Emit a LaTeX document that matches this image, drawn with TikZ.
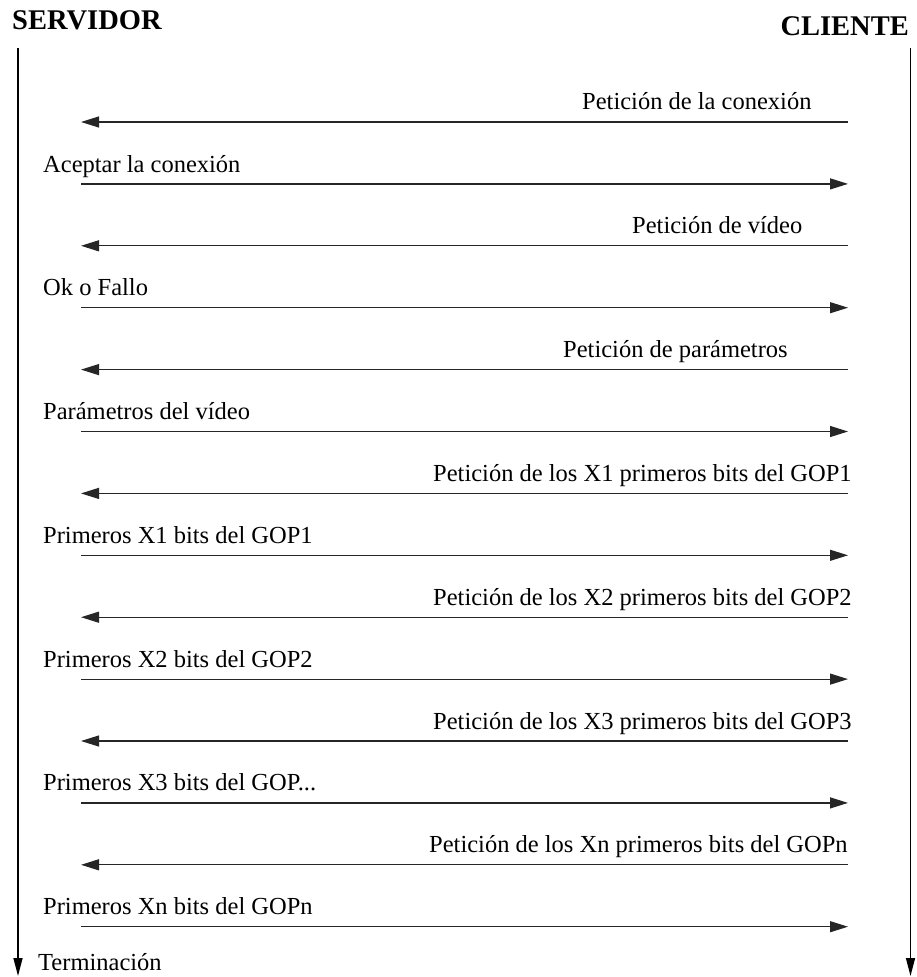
\documentclass[tikz,border=0pt]{standalone}
\usepackage{fontspec}
\setmainfont{Liberation Serif}
\usetikzlibrary{arrows.meta}
\begin{document}
\begin{tikzpicture}[x=1pt,y=-1pt,
  msg/.style={line width=1.2pt,black!85,-{Triangle[length=18pt,width=11pt]}},
  life/.style={line width=1.5pt,black,-{Triangle[length=18pt,width=9pt]}},
  lbl/.style={inner sep=0pt,font=\fontsize{24.5}{29}\selectfont},
  head/.style={inner sep=0pt,font=\fontsize{28.5}{34}\selectfont\bfseries}]
\useasboundingbox (0,0) rectangle (916,977);

% participants
\node[head,anchor=base west] (srv) at (12,29) {SERVIDOR};
\node[head,anchor=base east] (cli) at (909,35) {CLIENTE};

% lifelines
\coordinate (srvtop) at (18,48);
\coordinate (srvend) at (18,976);
\coordinate (clitop) at (910.5,48);
\coordinate (cliend) at (910.5,976);
\draw[life] (srvtop) -- (srvend);
\draw[life] (clitop) -- (cliend);
\node[lbl,anchor=base west] (term) at (38,970) {Terminación};

% message end points, one row every 61.9px
\foreach \i in {0,...,13}{
  \coordinate (s\i) at (81,122+61.9*\i);
  \coordinate (c\i) at (848,122+61.9*\i);
}

% client -> server requests
\draw[msg] (c0) -- (s0);
\draw[msg] (c2) -- (s2);
\draw[msg] (c4) -- (s4);
\draw[msg] (c6) -- (s6);
\draw[msg] (c8) -- (s8);
\draw[msg] (c10) -- (s10);
\draw[msg] (c12) -- (s12);

% server -> client replies
\draw[msg] (s1) -- (c1);
\draw[msg] (s3) -- (c3);
\draw[msg] (s5) -- (c5);
\draw[msg] (s7) -- (c7);
\draw[msg] (s9) -- (c9);
\draw[msg] (s11) -- (c11);
\draw[msg] (s13) -- (c13);

% request labels, set just above their arrows
\node[lbl,anchor=base west] (l0) at ([yshift=13pt]c0 -| 582,0) {Petición de la conexión};
\node[lbl,anchor=base west] (l2) at ([yshift=12pt]c2 -| 632,0) {Petición de vídeo};
\node[lbl,anchor=base west] (l4) at ([yshift=12pt]c4 -| 563,0) {Petición de parámetros};
\node[lbl,anchor=base west] (l6) at ([yshift=12pt]c6 -| 433,0) {Petición de los X1 primeros bits del GOP1};
\node[lbl,anchor=base west] (l8) at ([yshift=12pt]c8 -| 433,0) {Petición de los X2 primeros bits del GOP2};
\node[lbl,anchor=base west] (l10) at ([yshift=12pt]c10 -| 433,0) {Petición de los X3 primeros bits del GOP3};
\node[lbl,anchor=base west] (l12) at ([yshift=12pt]c12 -| 429,0) {Petición de los Xn primeros bits del GOPn};

% reply labels
\node[lbl,anchor=base west] (l1) at ([yshift=11pt]s1 -| 43,0) {Aceptar la conexión};
\node[lbl,anchor=base west] (l3) at ([yshift=12pt]s3 -| 43,0) {Ok o Fallo};
\node[lbl,anchor=base west] (l5) at ([yshift=12pt]s5 -| 43,0) {Parámetros del vídeo};
\node[lbl,anchor=base west] (l7) at ([yshift=12pt]s7 -| 43,0) {Primeros X1 bits del GOP1};
\node[lbl,anchor=base west] (l9) at ([yshift=12pt]s9 -| 43,0) {Primeros X2 bits del GOP2};
\node[lbl,anchor=base west] (l11) at ([yshift=12pt]s11 -| 43,0) {Primeros X3 bits del GOP...};
\node[lbl,anchor=base west] (l13) at ([yshift=12pt]s13 -| 43,0) {Primeros Xn bits del GOPn};
\end{tikzpicture}
\end{document}
